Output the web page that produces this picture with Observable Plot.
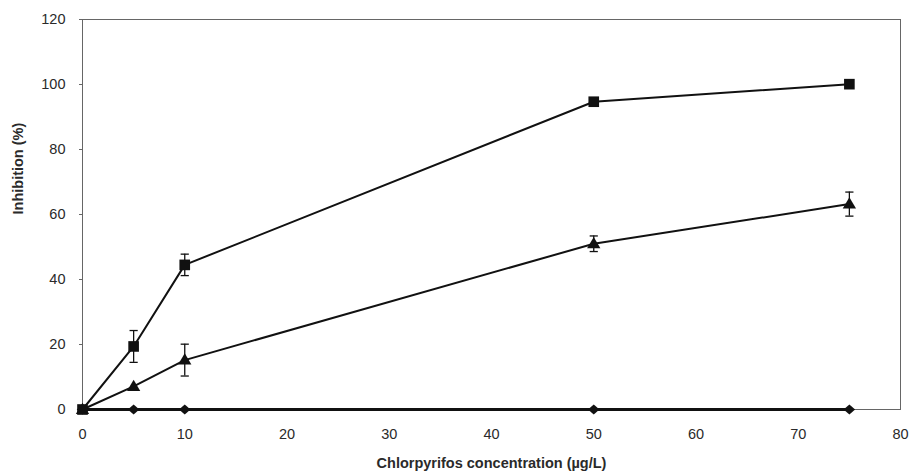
<!DOCTYPE html>
<html>
<head>
<meta charset="utf-8">
<script src="https://cdn.jsdelivr.net/npm/d3@7"></script>
<script src="https://cdn.jsdelivr.net/npm/@observablehq/plot@0.6"></script>
<style>
  html, body { margin: 0; padding: 0; background: #fff; }
  #chart svg { display: block; }
</style>
</head>
<body>
<div id="chart"></div>
<script>
// Data
const concentrations = [0, 5, 10, 50, 75];
const squareValues   = [0, 19.4, 44.5, 94.7, 100.1];
const squareErrors   = [0, 4.9, 3.3, 0, 0];
const triangleValues = [0, 7.1, 15.2, 51.0, 63.2];
const triangleErrors = [0, 0, 4.9, 2.4, 3.7];
const diamondValues  = [0, 0, 0, 0, 0];
const xTicks = [0, 10, 20, 30, 40, 50, 60, 70, 80];
const yTicks = [0, 20, 40, 60, 80, 100, 120];
const xTitle = "Chlorpyrifos concentration (µg/L)";
const yTitle = "Inhibition (%)";

const mk = (vals, errs) => concentrations.map((x, i) => ({x, y: vals[i], e: errs ? errs[i] : 0}));
const sq = mk(squareValues, squareErrors);
const tri = mk(triangleValues, triangleErrors);
const dia = mk(diamondValues);

const triSymbol = {
  draw(ctx, size) {
    const w = Math.sqrt(size) * 1.5, h = w * 0.85;
    ctx.moveTo(0, -h * 0.6);
    ctx.lineTo(w / 2, h * 0.4);
    ctx.lineTo(-w / 2, h * 0.4);
    ctx.closePath();
  }
};
const diaSymbol = {
  draw(ctx, size) {
    const w = Math.sqrt(size) * 1.3, h = w * 0.85;
    ctx.moveTo(0, -h / 2);
    ctx.lineTo(w / 2, 0);
    ctx.lineTo(0, h / 2);
    ctx.lineTo(-w / 2, 0);
    ctx.closePath();
  }
};

const ink = "#111";
const txt = "#2a2a2a";
const errs = [...sq, ...tri].filter(d => d.e > 0);
const capHalf = 0.4;

const chart = Plot.plot({
  width: 911,
  height: 475,
  marginLeft: 82,
  marginTop: 19,
  marginRight: 11,
  marginBottom: 66,
  style: {fontFamily: "'Liberation Sans', Arial, sans-serif", color: txt, background: "#fff"},
  x: {domain: [0, 80], ticks: xTicks},
  y: {domain: [0, 120], ticks: yTicks},
  marks: [
    Plot.frame({stroke: "#666", strokeWidth: 1}),
    Plot.axisX({ticks: xTicks, tickSize: 0, tickPadding: 19, fontSize: 14.5, label: null, fill: txt}),
    Plot.axisY({ticks: yTicks, tickSize: 3, tickPadding: 14, fontSize: 14.5, label: null, stroke: "#666", fill: txt}),
    // error bars
    Plot.ruleX(errs, {x: "x", y1: d => d.y - d.e, y2: d => d.y + d.e, stroke: ink, strokeWidth: 1.3}),
    Plot.link(errs, {x1: d => d.x - capHalf, x2: d => d.x + capHalf, y1: d => d.y + d.e, y2: d => d.y + d.e, stroke: ink, strokeWidth: 1.3}),
    Plot.link(errs, {x1: d => d.x - capHalf, x2: d => d.x + capHalf, y1: d => d.y - d.e, y2: d => d.y - d.e, stroke: ink, strokeWidth: 1.3}),
    // lines
    Plot.line(dia, {x: "x", y: "y", stroke: ink, strokeWidth: 3}),
    Plot.line(tri, {x: "x", y: "y", stroke: ink, strokeWidth: 2}),
    Plot.line(sq, {x: "x", y: "y", stroke: ink, strokeWidth: 2}),
    // markers
    Plot.dot(dia, {x: "x", y: "y", symbol: diaSymbol, r: 5, fill: ink, stroke: "none"}),
    Plot.dot(tri, {x: "x", y: "y", symbol: triSymbol, r: 5, fill: ink, stroke: "none"}),
    Plot.dot(sq, {x: "x", y: "y", symbol: "square", r: 6, fill: ink, stroke: "none"}),
    // titles
    Plot.text([yTitle], {text: d => d, frameAnchor: "left", dx: -64, rotate: -90, fontSize: 14.5, fontWeight: "bold", fill: txt}),
    Plot.text([xTitle], {text: d => d, frameAnchor: "bottom", dy: 58, fontSize: 14.5, fontWeight: "bold", fill: txt})
  ]
});
document.getElementById("chart").appendChild(chart);
</script>
</body>
</html>
